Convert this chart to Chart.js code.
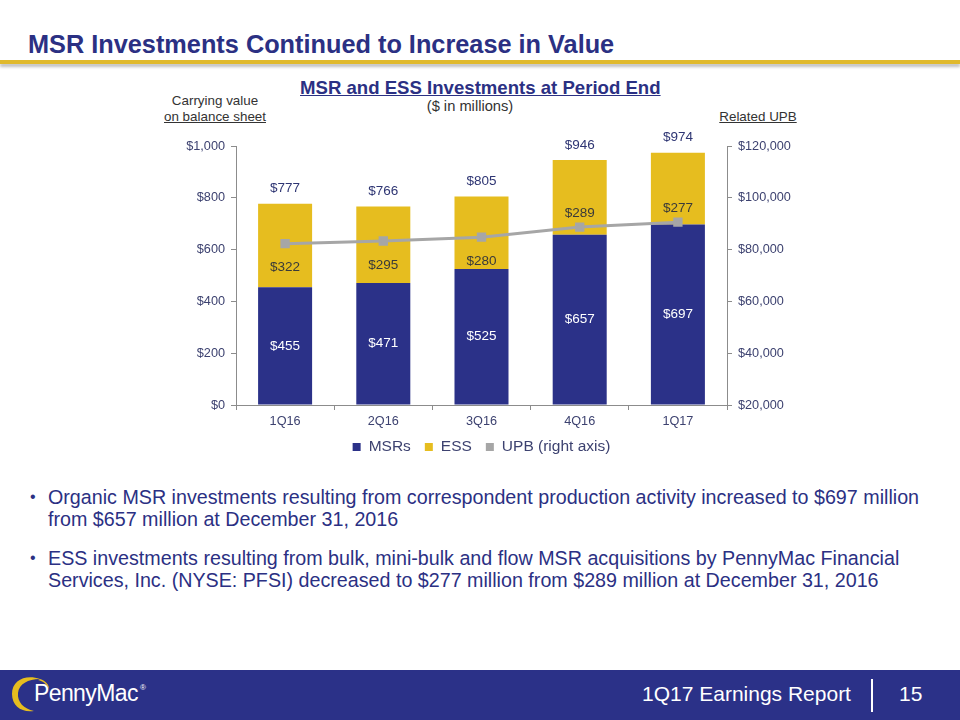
<!DOCTYPE html>
<html><head><meta charset="utf-8">
<script src="https://cdn.jsdelivr.net/npm/chart.js@4.4.1/dist/chart.umd.min.js"></script>
<style>
html,body{margin:0;padding:0;width:960px;height:720px;overflow:hidden;background:#fff;font-family:"Liberation Sans",Arial,sans-serif;}
#title{position:absolute;left:28px;top:30px;font-size:25.3px;font-weight:bold;color:#2b3083;white-space:nowrap;}
#rule{position:absolute;left:0;top:60px;width:960px;height:4px;background:#e0b92c;box-shadow:0 3px 3px rgba(0,0,0,0.25);}
#ctitle{position:absolute;left:300px;top:77px;font-size:18.6px;font-weight:bold;color:#2b3083;text-decoration:underline;white-space:nowrap;}
#csub{position:absolute;left:380px;width:180px;top:98px;text-align:center;font-size:14.7px;color:#333;}
#lax{position:absolute;left:150px;width:130px;top:93px;text-align:center;font-size:13.4px;color:#333;line-height:16px;}
#rax{position:absolute;left:700px;width:116px;top:109px;text-align:center;font-size:13.4px;color:#333;text-decoration:underline;}
#wrap{position:absolute;left:140px;top:120px;width:680px;height:345px;}
#bul{position:absolute;left:30px;top:486px;width:910px;font-size:19.7px;color:#2b3083;line-height:22px;}
#bul div{position:relative;padding-left:18px;margin-bottom:17px;}
#bul div:before{content:"\2022";position:absolute;left:0;top:0;font-size:16px;}
#foot{position:absolute;left:0;top:670px;width:960px;height:50px;background:#2b3188;}
#rep{position:absolute;left:642px;top:682px;font-size:21px;color:#fff;white-space:nowrap;}
#sep{position:absolute;left:871px;top:679px;width:2px;height:33px;background:#fff;}
#pg{position:absolute;left:899px;top:682px;font-size:21px;color:#fff;}
#logo{position:absolute;left:0;top:670px;width:80px;height:50px;}
#logotxt{position:absolute;left:34px;top:680px;font-size:23px;color:#fff;letter-spacing:-0.6px;white-space:nowrap;}
#logotxt sup{font-size:8px;vertical-align:top;position:relative;top:3px;left:2px;}
</style></head><body>
<div id="title">MSR Investments Continued to Increase in Value</div>
<div id="rule"></div>
<div id="ctitle">MSR and ESS Investments at Period End</div>
<div id="csub">($ in millions)</div>
<div id="lax">Carrying value<br><u>on balance sheet</u></div>
<div id="rax">Related UPB</div>
<div id="wrap"><canvas id="c" width="680" height="345"></canvas></div>
<div id="bul">
<div>Organic MSR investments resulting from correspondent production activity increased to $697 million from $657 million at December 31, 2016</div>
<div>ESS investments resulting from bulk, mini-bulk and flow MSR acquisitions by PennyMac Financial Services, Inc. (NYSE: PFSI) decreased to $277 million from $289 million at December 31, 2016</div>
</div>
<div id="foot"></div>
<svg id="logo" viewBox="0 0 80 50"><path d="M40 9 C26 4 12 10 12 24 C12 36 22 43 34 41 C24 39 17 32 18 23 C19 14 28 9 40 9 Z" fill="#e6bd1f"/><path d="M40 9 C46 11 49 15 49 19 C47 14 43 11 38 10 Z" fill="#e6bd1f"/></svg>
<div id="logotxt">PennyMac<sup>®</sup></div>
<div id="rep">1Q17 Earnings Report</div>
<div id="sep"></div>
<div id="pg">15</div>
<script>
const categories = ["1Q16","2Q16","3Q16","4Q16","1Q17"];
const msrValues = [455,471,525,657,697];
const essValues = [322,295,280,289,277];
const totalValues = [777,766,805,946,974];
const upbValues = [82300,83300,84800,88700,90600];

const NAVY="#2b3188", GOLD="#e6bd1f", GREY="#a6a6a6", TXT="#3d4270";
const FONT='"Liberation Sans", Arial, sans-serif';
const fmt = v => "$" + v.toLocaleString("en-US");

const labelPlugin = {
  id:"labels",
  afterDatasetsDraw(chart){
    const ctx = chart.ctx;
    const m0 = chart.getDatasetMeta(0), m1 = chart.getDatasetMeta(1), m2 = chart.getDatasetMeta(2);
    ctx.save();
    ctx.textAlign="center"; ctx.textBaseline="middle";
    ctx.font = '13.5px ' + FONT;
    categories.forEach((c,i)=>{
      const b0 = m0.data[i], b1 = m1.data[i], p = m2.data[i];
      ctx.fillStyle="#ffffff";
      ctx.fillText(fmt(msrValues[i]), b0.x, (b0.y + b0.base)/2);
      const top = b1.y, bot = b1.base, ly = p.y;
      const y = (bot - ly >= 30) ? ly + 24 : ly - 14;
      ctx.fillStyle="#3a3a3a";
      ctx.fillText(fmt(essValues[i]), b1.x, y);
      ctx.fillStyle="#2e3573";
      ctx.fillText(fmt(totalValues[i]), b1.x, top - 15);
    });
    ctx.restore();
  }
};

// legend drawn below the x axis from the datasets' labels and colours
const legendPlugin = {
  id:"bottomLegend",
  afterDraw(chart){
    const ctx = chart.ctx, ca = chart.chartArea;
    const box = 8, gapText = 8, gapItem = 14;
    ctx.save();
    ctx.font = '15.5px ' + FONT;
    ctx.textBaseline = "middle"; ctx.textAlign = "left";
    const items = chart.data.datasets.map(d => ({t:d.label, c:d.backgroundColor, w:ctx.measureText(d.label).width}));
    const total = items.reduce((s,it)=>s + box + gapText + it.w, 0) + gapItem*(items.length-1);
    let x = (ca.left + ca.right)/2 - total/2;
    const y = ca.bottom + 42;
    items.forEach(it=>{
      ctx.fillStyle = it.c;
      ctx.fillRect(x, y - box/2, box, box);
      x += box + gapText;
      ctx.fillStyle = TXT;
      ctx.fillText(it.t, x, y);
      x += it.w + gapItem;
    });
    ctx.restore();
  }
};

new Chart(document.getElementById("c"),{
  data:{
    labels:categories,
    datasets:[
      {type:"bar",label:"MSRs",data:msrValues,backgroundColor:NAVY,yAxisID:"y",order:2,categoryPercentage:1,barPercentage:0.55},
      {type:"bar",label:"ESS",data:essValues,backgroundColor:GOLD,yAxisID:"y",order:2,categoryPercentage:1,barPercentage:0.55},
      {type:"line",label:"UPB (right axis)",data:upbValues,borderColor:GREY,backgroundColor:GREY,yAxisID:"y1",order:1,
       borderWidth:3,pointStyle:"rect",pointRadius:4.5,pointBackgroundColor:GREY,pointBorderColor:GREY,tension:0}
    ]
  },
  options:{
    responsive:false,animation:false,
    layout:{padding:{top:26,left:0,right:0,bottom:36}},
    plugins:{
      legend:{display:false},
      tooltip:{enabled:false}
    },
    scales:{
      x:{stacked:true,grid:{display:true,drawOnChartArea:false,color:"#8c8c8c",tickLength:5,offset:true},border:{color:"#8c8c8c"},
         ticks:{color:TXT,font:{size:12.7,family:FONT},padding:4},
         afterFit(s){s.height=24;}},
      y:{stacked:true,min:0,max:1000,position:"left",
         ticks:{stepSize:200,callback:v=>fmt(v),color:TXT,font:{size:12.7,family:FONT},padding:6},
         grid:{drawOnChartArea:false,color:"#8c8c8c",tickLength:5},border:{color:"#8c8c8c"},
         afterFit(s){s.width=96;}},
      y1:{min:20000,max:120000,position:"right",
         ticks:{stepSize:20000,callback:v=>fmt(v),color:TXT,font:{size:12.7,family:FONT},padding:6},
         grid:{drawOnChartArea:false,color:"#8c8c8c",tickLength:5},border:{color:"#8c8c8c"},
         afterFit(s){s.width=93;}}
    }
  },
  plugins:[labelPlugin, legendPlugin]
});
</script>
</body></html>
